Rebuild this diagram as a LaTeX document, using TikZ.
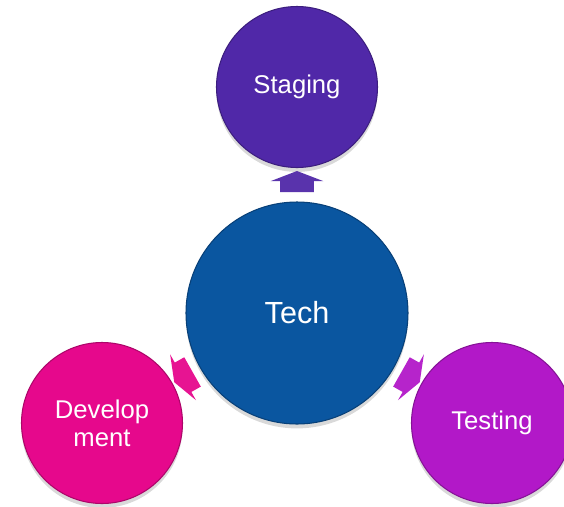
\documentclass[tikz,border=0pt]{standalone}
\usepackage{fontspec}
\setmainfont{Liberation Sans}
\usepackage{tikz}
\usetikzlibrary{positioning, shapes.arrows, shadows}
\definecolor{techblue}{RGB}{10,86,160}
\definecolor{stagingviolet}{RGB}{80,40,168}
\definecolor{developpink}{RGB}{230,8,140}
\definecolor{testingpurple}{RGB}{178,24,200}
\tikzstyle{stage} = [circle, minimum size=3.22cm, inner sep=0pt, text centered, align=center, text=white, font=\fontsize{14.6}{16}\selectfont, line width=0.6pt, drop shadow={shadow xshift=0pt, shadow yshift=-2.5pt, opacity=0.3}]
\tikzstyle{hub} = [stage, minimum size=4.44cm, font=\fontsize{17.4}{20}\selectfont]
\tikzstyle{blockarrow} = [single arrow, draw=none, inner xsep=0pt, inner ysep=0.33cm, minimum height=0.42cm, single arrow head extend=0.19cm, single arrow tip angle=138, sloped, allow upside down, midway]

\begin{document}
\begin{tikzpicture}[node distance=2cm, on grid]
\useasboundingbox (-5.94,-3.86) rectangle (5.34,6.26);
\node (tech) [hub, fill=techblue, draw=techblue!75!black] {Tech};
\node (staging) [stage, fill=stagingviolet, draw=stagingviolet!75!black, above=4.52cm of tech] {Staging};
\node (develop) [stage, fill=developpink, draw=developpink!75!black, below left=2.2cm and 3.9cm of tech] {Develop\\ment};
\node (testing) [stage, fill=testingpurple, draw=testingpurple!75!black, below right=2.2cm and 3.9cm of tech] {Testing};
\path (tech) -- (staging) node (toStaging) [blockarrow, fill=stagingviolet!95!white] {};
\path (tech) -- (develop) node (toDevelop) [blockarrow, fill=developpink!95!white] {};
\path (tech) -- (testing) node (toTesting) [blockarrow, fill=testingpurple!95!white] {};
\end{tikzpicture}
\end{document}
